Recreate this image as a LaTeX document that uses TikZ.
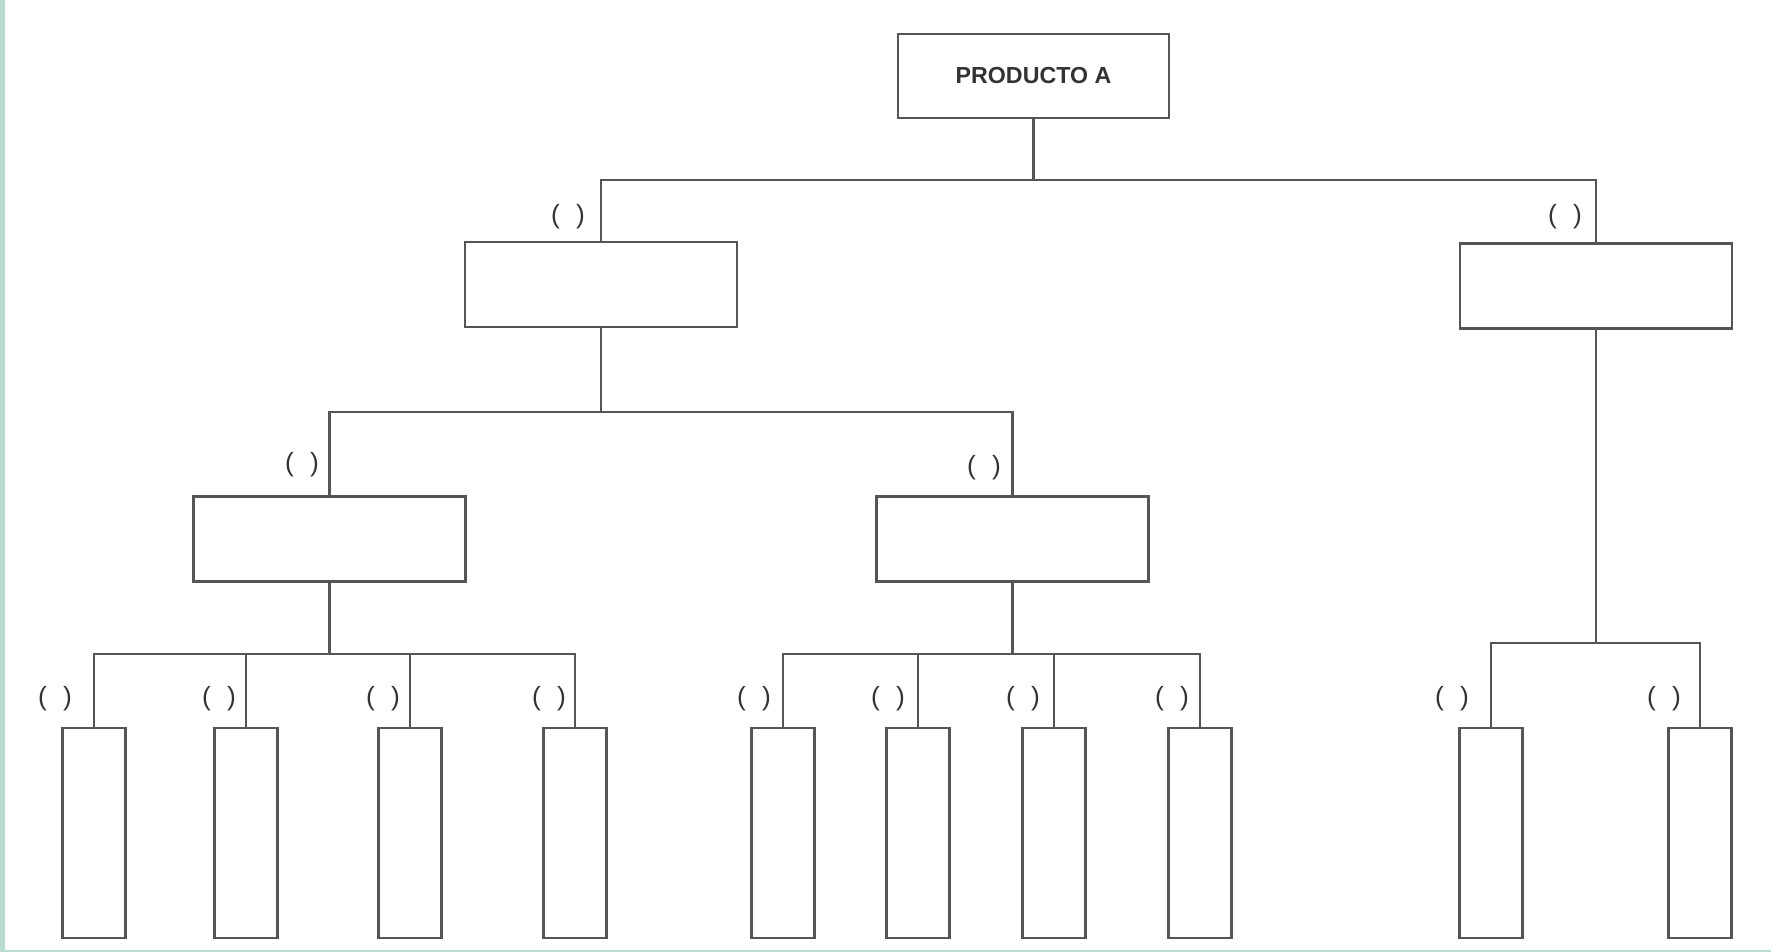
\documentclass[tikz,border=0pt]{standalone}
\usepackage{fontspec}
\setmainfont{Liberation Sans}
\usepackage{tikz}

\definecolor{edgegreen}{HTML}{B8DCCF}
\definecolor{linegray}{HTML}{555555}
\definecolor{textgray}{HTML}{333333}

\tikzset{
    box/.style={draw=linegray, line width=0.8pt, fill=white, inner sep=0pt, outer sep=0pt},
    widebox/.style={box, minimum width=2.72cm, minimum height=0.85cm},
    leafbox/.style={box, minimum width=0.63cm, minimum height=2.10cm},
    link/.style={draw=linegray, line width=0.8pt},
    paren/.style={font=\fontsize{7.5}{8}\selectfont, text=textgray, inner sep=0pt}
}

\begin{document}
\begin{tikzpicture}[x=0.01cm, y=-0.01cm]
    \useasboundingbox (0,0) rectangle (1771,952);

    % Frame strips
    \fill[edgegreen] (0,0) rectangle (5,952);
    \fill[edgegreen] (0,950) rectangle (1771,952);

    % Root
    \node[widebox, minimum width=2.71cm, minimum height=0.84cm,
          font=\bfseries\fontsize{6.6}{8}\selectfont, text=textgray] (prod) at (1033.5,76) {PRODUCTO A};

    % First level
    \node[widebox] (a1) at (601,284.5) {};
    \node[widebox] (a2) at (1596,286) {};

    % Second level
    \node[widebox] (b1) at (329.5,539) {};
    \node[widebox] (b2) at (1012.5,539) {};

    % Leaves
    \node[leafbox] (c1) at (94,833) {};
    \node[leafbox] (c2) at (246,833) {};
    \node[leafbox] (c3) at (410,833) {};
    \node[leafbox] (c4) at (575,833) {};
    \node[leafbox] (c5) at (783,833) {};
    \node[leafbox] (c6) at (918,833) {};
    \node[leafbox] (c7) at (1054,833) {};
    \node[leafbox] (c8) at (1200,833) {};
    \node[leafbox] (c9) at (1491,833) {};
    \node[leafbox] (c10) at (1700,833) {};

    % Junctions
    \coordinate (j0) at (1033.5,180);
    \coordinate (j1) at (601,412);
    \coordinate (j2) at (329.5,654);
    \coordinate (j3) at (1012.5,654);
    \coordinate (j4) at (1596,643);

    % Connectors
    \draw[link] (prod.south) -- (j0);
    \draw[link] (j0) -| (a1.north);
    \draw[link] (j0) -| (a2.north);

    \draw[link] (a1.south) -- (j1);
    \draw[link] (j1) -| (b1.north);
    \draw[link] (j1) -| (b2.north);

    \draw[link] (b1.south) -- (j2);
    \foreach \leaf in {c1,c2,c3,c4}
        \draw[link] (j2) -| (\leaf.north);

    \draw[link] (b2.south) -- (j3);
    \foreach \leaf in {c5,c6,c7,c8}
        \draw[link] (j3) -| (\leaf.north);

    \draw[link] (a2.south) -- (j4);
    \foreach \leaf in {c9,c10}
        \draw[link] (j4) -| (\leaf.north);

    % Quantity marks
    \node[paren] (q1) at (568,217) {(\hspace{2.5pt} )};
    \node[paren] (q2) at (1565,217) {(\hspace{2.5pt} )};
    \node[paren] (q3) at (302,465) {(\hspace{2.5pt} )};
    \node[paren] (q4) at (984,468) {(\hspace{2.5pt} )};
    \node[paren] (q5) at (55,699) {(\hspace{2.5pt} )};
    \node[paren] (q6) at (219,699) {(\hspace{2.5pt} )};
    \node[paren] (q7) at (383,699) {(\hspace{2.5pt} )};
    \node[paren] (q8) at (549,699) {(\hspace{2.5pt} )};
    \node[paren] (q9) at (754,699) {(\hspace{2.5pt} )};
    \node[paren] (q10) at (888,699) {(\hspace{2.5pt} )};
    \node[paren] (q11) at (1023,699) {(\hspace{2.5pt} )};
    \node[paren] (q12) at (1172,699) {(\hspace{2.5pt} )};
    \node[paren] (q13) at (1452,699) {(\hspace{2.5pt} )};
    \node[paren] (q14) at (1664,699) {(\hspace{2.5pt} )};
\end{tikzpicture}
\end{document}
